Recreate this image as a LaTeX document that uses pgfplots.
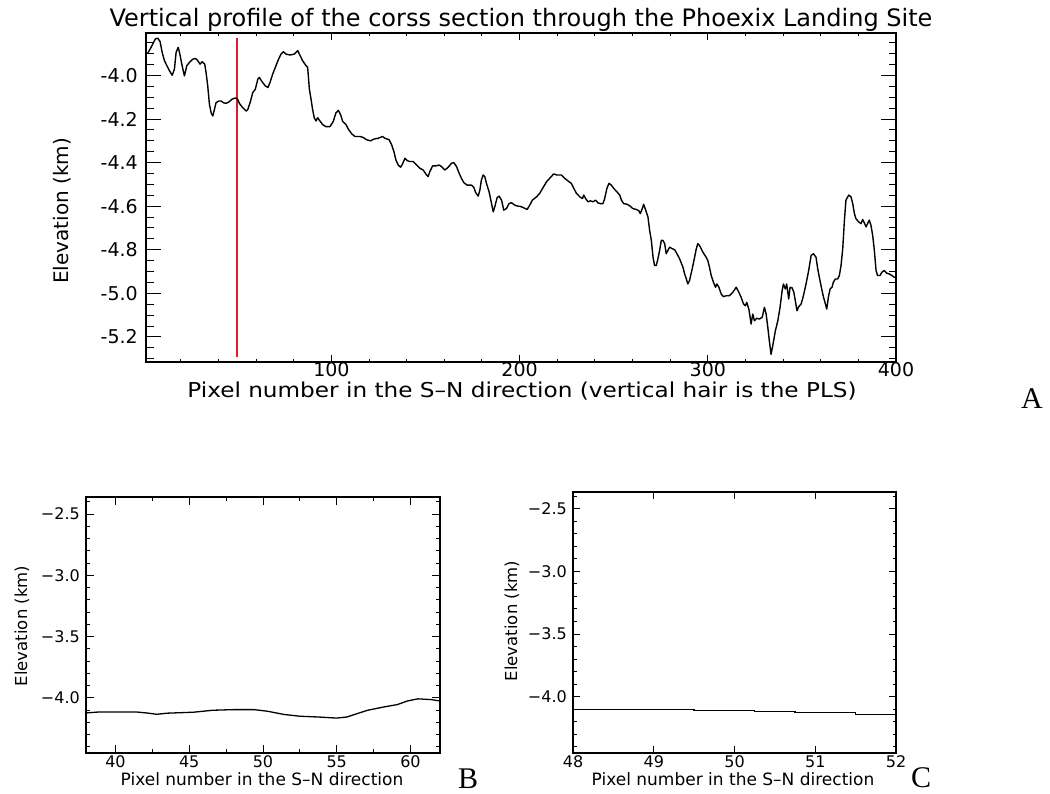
\documentclass[border=0pt]{standalone}
\usepackage{pgfplots}
\pgfplotsset{compat=1.18}
\usepackage{fontspec}
\setmainfont{DejaVu Sans}
\newfontfamily\timesfont{Liberation Serif}
\newfontfamily\widesans[FakeStretch=1.13]{DejaVu Sans}
\definecolor{plsred}{RGB}{215,30,45}
\begin{document}
\begin{tikzpicture}[x=1pt,y=1pt]
\path[use as bounding box] (0,0) rectangle (1050,794);
% ---------- Panel A: data + x ticks ----------
\begin{axis}[
  at={(146pt,432pt)}, anchor=south west,
  width=750pt, height=329pt, scale only axis,
  xmin=1.5, xmax=400, ymin=-5.315, ymax=-3.805,
  axis line style={line width=1.3pt},
  tick align=inside,
  xtick={100,200,300,400}, xticklabels={100,200,300,400},
  minor xtick={20,40,60,80,120,140,160,180,220,240,260,280,320,340,360,380},
  ytick=\empty,
  major tick length=6.6pt, minor tick length=3.3pt,
  tick style={black, line width=1pt},
  xticklabel style={font=\fontsize{19}{19}\selectfont, anchor=base, yshift=-15pt, inner sep=0pt},
]
\addplot[draw=plsred, color=plsred, line width=2pt, no markers] coordinates {(50,-3.83) (50,-5.29)};
\addplot[black, line width=1.4pt, line join=round, no markers] coordinates {
(1.5,-3.900) (2.5,-3.897) (4.2,-3.871) (6.5,-3.832) (7.8,-3.829) (9.0,-3.845) (10.1,-3.894) (11.3,-3.932)
(12.6,-3.955) (14.0,-3.979) (15.4,-3.999) (16.6,-3.971) (17.5,-3.894) (18.6,-3.871) (19.3,-3.894) (20.7,-3.955)
(21.9,-4.002) (23.2,-3.955) (24.6,-3.940) (26.4,-3.925) (27.8,-3.922) (29.0,-3.932) (30.2,-3.948) (31.3,-3.937)
(32.7,-3.948) (33.4,-3.986) (34.3,-4.048) (35.2,-4.132) (36.1,-4.171) (37.0,-4.186) (37.9,-4.155) (38.7,-4.125)
(40.2,-4.117) (41.4,-4.117) (42.6,-4.125) (44.0,-4.128) (45.5,-4.122) (47.2,-4.109) (49.0,-4.103) (50.2,-4.109)
(51.1,-4.128) (52.9,-4.148) (54.7,-4.163) (55.5,-4.158) (56.8,-4.125) (58.2,-4.079) (59.6,-4.063) (60.9,-4.017)
(61.7,-4.009) (63.2,-4.029) (64.9,-4.048) (66.3,-4.055) (67.4,-4.032) (68.8,-3.994) (70.2,-3.963) (71.6,-3.932)
(73.2,-3.902) (74.5,-3.891) (75.9,-3.902) (78.0,-3.906) (80.3,-3.902) (82.1,-3.886) (83.0,-3.902) (84.7,-3.932)
(86.5,-3.955) (87.4,-3.963) (88.3,-4.063) (89.2,-4.109) (90.0,-4.155) (90.9,-4.194) (91.8,-4.209) (92.7,-4.194)
(93.6,-4.205) (95.3,-4.225) (97.1,-4.235) (98.9,-4.235)
(99.3,-4.234) (101.0,-4.211) (102.4,-4.172) (103.7,-4.160) (104.9,-4.180) (106.0,-4.211) (107.8,-4.226)
(109.0,-4.246) (110.8,-4.268) (112.5,-4.280) (115.2,-4.280) (117.0,-4.285) (118.7,-4.295) (120.8,-4.300)
(122.6,-4.292) (124.9,-4.288) (127.2,-4.280) (128.4,-4.288) (130.7,-4.295) (132.0,-4.318) (133.2,-4.349)
(134.3,-4.388) (135.5,-4.411) (136.8,-4.421) (137.8,-4.406) (139.1,-4.380) (140.3,-4.391) (141.7,-4.395)
(143.5,-4.395) (145.3,-4.411) (147.0,-4.426) (148.8,-4.434) (150.6,-4.457) (151.4,-4.464) (152.3,-4.441)
(153.8,-4.415) (155.5,-4.415) (157.3,-4.411) (158.5,-4.418) (160.3,-4.434) (162.1,-4.421) (163.8,-4.403)
(165.1,-4.400) (166.5,-4.418) (167.9,-4.449) (169.1,-4.472) (170.4,-4.492) (172.1,-4.503) (174.4,-4.503)
(175.7,-4.514) (176.7,-4.538) (178.0,-4.554) (178.9,-4.526) (179.7,-4.480) (180.6,-4.457) (181.5,-4.464)
(182.4,-4.495) (183.8,-4.534) (185.1,-4.588) (186.0,-4.626) (186.8,-4.603) (188.1,-4.560) (189.1,-4.554)
(190.4,-4.572) (191.6,-4.618) (193.0,-4.611) (194.4,-4.588) (195.7,-4.584) (197.4,-4.595) (199.2,-4.600)
(200.1,-4.600) (201.9,-4.606) (204.0,-4.615) (205.4,-4.595) (206.8,-4.572) (209.0,-4.557) (210.7,-4.541)
(212.5,-4.514) (214.3,-4.488) (216.4,-4.468) (218.1,-4.452) (219.9,-4.457) (222.2,-4.457) (224.0,-4.472)
(226.3,-4.488) (227.5,-4.495) (228.8,-4.518) (230.2,-4.541) (232.0,-4.557) (233.4,-4.565) (234.1,-4.549)
(235.1,-4.565) (236.4,-4.580) (237.6,-4.575) (239.0,-4.580) (240.4,-4.572) (241.7,-4.585) (242.9,-4.588)
(244.3,-4.588) (245.2,-4.565) (246.4,-4.518) (247.5,-4.495) (248.7,-4.503) (250.0,-4.518) (251.7,-4.534)
(253.2,-4.549) (254.1,-4.572) (255.3,-4.588) (257.1,-4.591) (258.8,-4.600) (260.2,-4.611) (262.0,-4.615)
(263.4,-4.621) (264.1,-4.634) (265.2,-4.611) (265.9,-4.591) (267.0,-4.618) (268.2,-4.649) (269.1,-4.711)
(270.0,-4.757) (270.9,-4.834) (271.7,-4.872) (272.6,-4.872) (273.5,-4.841) (274.4,-4.803) (275.3,-4.757)
(276.2,-4.757) (277.1,-4.772) (277.9,-4.818) (278.8,-4.803) (279.7,-4.788) (281.1,-4.795) (282.4,-4.800)
(283.6,-4.818) (285.0,-4.841) (286.8,-4.880) (287.7,-4.911) (288.6,-4.934) (289.4,-4.957) (290.3,-4.941)
(291.7,-4.888) (293.0,-4.834) (293.9,-4.795) (294.7,-4.772)
(295.6,-4.780) (297.4,-4.811) (299.1,-4.834) (300.0,-4.849) (300.9,-4.880) (301.8,-4.918) (303.0,-4.949)
(304.1,-4.972) (304.8,-4.957) (305.9,-4.972) (307.1,-5.003) (308.3,-5.015) (309.8,-5.011) (311.5,-5.011)
(313.3,-4.995) (315.1,-4.972) (316.5,-4.995) (317.7,-5.018) (319.0,-5.049) (320.0,-5.057) (320.7,-5.041)
(321.8,-5.072) (322.5,-5.110) (323.0,-5.141) (323.9,-5.095) (324.8,-5.126) (326.0,-5.114) (327.4,-5.118)
(328.9,-5.110) (330.1,-5.064) (331.0,-5.095) (331.9,-5.157) (332.7,-5.218) (333.6,-5.280) (334.5,-5.241)
(335.9,-5.172) (337.2,-5.126) (338.4,-5.064) (339.5,-4.987) (340.2,-4.957) (341.2,-4.980) (341.9,-4.957)
(343.0,-5.026) (343.7,-4.972) (344.8,-4.975) (345.7,-4.995) (346.5,-5.034) (347.4,-5.080) (348.3,-5.061)
(349.6,-5.049) (350.8,-5.011) (352.2,-4.957) (353.6,-4.895) (354.9,-4.826) (356.1,-4.818) (357.5,-4.834)
(358.4,-4.887) (359.6,-4.941) (360.7,-4.987) (361.4,-5.015) (362.5,-5.049) (363.2,-5.072) (364.2,-5.011)
(365.0,-4.980) (366.0,-4.972) (366.7,-4.949) (367.8,-4.934) (369.0,-4.934) (369.9,-4.918) (370.8,-4.872)
(371.7,-4.795) (372.6,-4.664) (373.4,-4.572) (374.9,-4.549) (376.1,-4.557) (377.0,-4.588) (377.9,-4.634)
(378.7,-4.657) (380.2,-4.672) (381.4,-4.680) (382.3,-4.661) (383.2,-4.677) (384.1,-4.695) (384.9,-4.680)
(385.8,-4.664) (386.7,-4.688) (387.6,-4.734) (388.5,-4.803) (389.4,-4.895) (390.2,-4.918) (391.5,-4.918)
(392.5,-4.903) (393.8,-4.895) (395.0,-4.907) (396.4,-4.911) (397.8,-4.918) (399.1,-4.926) (400,-4.930)
};
\end{axis}
% ---------- Panel A: y ticks ----------
\begin{axis}[
  at={(146pt,432pt)}, anchor=south west,
  width=750pt, height=329pt, scale only axis,
  xmin=1.5, xmax=400, ymin=-5.315, ymax=-3.805,
  axis line style={line width=1.3pt},
  tick align=inside,
  xtick=\empty,
  ytick={-5.2,-5.0,-4.8,-4.6,-4.4,-4.2,-4.0},
  yticklabels={-5.2,-5.0,-4.8,-4.6,-4.4,-4.2,-4.0},
  minor ytick={-5.30,-5.25,-5.15,-5.10,-5.05,-4.95,-4.90,-4.85,-4.75,-4.70,-4.65,-4.55,-4.50,-4.45,-4.35,-4.30,-4.25,-4.15,-4.10,-4.05,-3.95,-3.90,-3.85},
  major tick length=15pt, minor tick length=7.5pt,
  tick style={black, line width=1pt},
  yticklabel style={font=\fontsize{19}{19}\selectfont, anchor=east, xshift=-8pt, inner sep=0pt},
]
\end{axis}
% ---------- Panel B ----------
\begin{axis}[
  at={(86pt,41pt)}, anchor=south west,
  width=354pt, height=256pt, scale only axis,
  xmin=38, xmax=62, ymin=-4.45, ymax=-2.36,
  axis line style={line width=1.3pt},
  tick align=inside,
  xtick={40,45,50,55,60}, xticklabels={40,45,50,55,60},
  minor xtick={42.5,47.5,52.5,57.5},
  ytick={-4.0,-3.5,-3.0,-2.5}, yticklabels={−4.0,−3.5,−3.0,−2.5},
  minor ytick={-4.4,-4.3,-4.2,-4.1,-3.9,-3.8,-3.7,-3.6,-3.4,-3.3,-3.2,-3.1,-2.9,-2.8,-2.7,-2.6,-2.4},
  major tick length=8pt, minor tick length=4pt,
  tick style={black, line width=1pt},
  xticklabel style={font=\fontsize{16}{16}\selectfont, anchor=base, yshift=-15pt, inner sep=0pt},
  yticklabel style={font=\fontsize{16}{16}\selectfont, anchor=east, xshift=-6pt, inner sep=0pt},
]
\addplot[black, line width=1.3pt, line join=round, no markers] coordinates {
(38.0,-4.123) (38.9,-4.115) (41.4,-4.115) (42.1,-4.123) (42.8,-4.134) (43.5,-4.125) (45.3,-4.117)
(46.6,-4.101) (48.0,-4.096) (49.4,-4.096) (50.3,-4.109) (51.4,-4.135) (52.5,-4.150) (53.7,-4.156)
(55.0,-4.165) (55.7,-4.156) (56.4,-4.128) (57.1,-4.101) (58.2,-4.074) (59.1,-4.055) (59.8,-4.025)
(60.5,-4.008) (61.4,-4.014) (62.0,-4.025)
};
\end{axis}
% ---------- Panel C ----------
\begin{axis}[
  at={(573pt,41pt)}, anchor=south west,
  width=323pt, height=261pt, scale only axis,
  xmin=48, xmax=52, ymin=-4.45, ymax=-2.366,
  axis line style={line width=1.3pt},
  tick align=inside,
  xtick={48,49,50,51,52}, xticklabels={48,49,50,51,52},
  ytick={-4.0,-3.5,-3.0,-2.5}, yticklabels={−4.0,−3.5,−3.0,−2.5},
  minor ytick={-4.4,-4.3,-4.2,-4.1,-3.9,-3.8,-3.7,-3.6,-3.4,-3.3,-3.2,-3.1,-2.9,-2.8,-2.7,-2.6,-2.4},
  major tick length=7pt, minor tick length=3.5pt,
  tick style={black, line width=1pt},
  xticklabel style={font=\fontsize{16}{16}\selectfont, anchor=base, yshift=-15pt, inner sep=0pt},
  yticklabel style={font=\fontsize{16}{16}\selectfont, anchor=east, xshift=-6pt, inner sep=0pt},
]
\addplot[black, line width=1.3pt, no markers] coordinates {
(48,-4.102) (49.5,-4.102) (49.5,-4.110) (50.25,-4.110) (50.25,-4.118) (50.75,-4.118)
(50.75,-4.128) (51.5,-4.128) (51.5,-4.142) (52,-4.142)
};
\end{axis}
% ---------- Titles and labels ----------
\node[anchor=base, inner sep=0pt, font=\fontsize{24}{24}\selectfont] at (521,767.5)
  {Vertical profile of the corss section through the Phoexix Landing Site};
\node[anchor=base, inner sep=0pt, font=\widesans\fontsize{20.5}{20.5}\selectfont] at (522,396)
  {Pixel number in the S–N direction (vertical hair is the PLS)};
\node[rotate=90, inner sep=0pt, font=\fontsize{20}{20}\selectfont] at (62,583) {Elevation (km)};
\node[anchor=base, inner sep=0pt, font=\fontsize{17}{17}\selectfont] at (262,8)
  {Pixel number in the S–N direction};
\node[rotate=90, inner sep=0pt, font=\fontsize{16.5}{16.5}\selectfont] at (22,168) {Elevation (km)};
\node[anchor=base, inner sep=0pt, font=\fontsize{17}{17}\selectfont] at (733,8)
  {Pixel number in the S–N direction};
\node[rotate=90, inner sep=0pt, font=\fontsize{16.5}{16.5}\selectfont] at (512,173) {Elevation (km)};
\node[anchor=base west, inner sep=0pt, font=\timesfont\fontsize{30}{30}\selectfont] at (1021,385) {A};
\node[anchor=base west, inner sep=0pt, font=\timesfont\fontsize{30}{30}\selectfont] at (458,5) {B};
\node[anchor=base west, inner sep=0pt, font=\timesfont\fontsize{30}{30}\selectfont] at (911,6) {C};
\end{tikzpicture}
\end{document}
